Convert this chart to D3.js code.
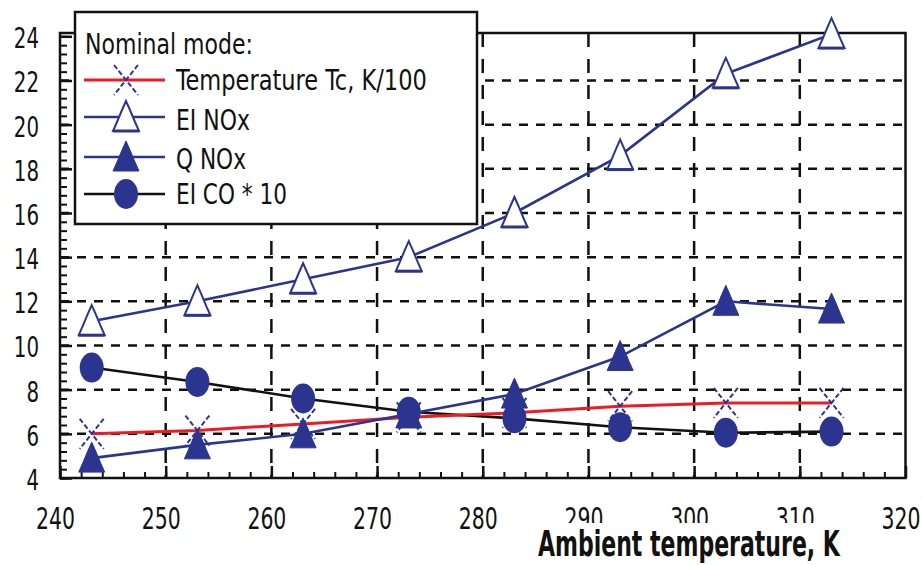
<!DOCTYPE html>
<html>
<head>
<meta charset="utf-8">
<script src="https://cdn.jsdelivr.net/npm/d3@7/dist/d3.min.js"></script>
<style>
  html, body { margin: 0; padding: 0; background: #fff; }
  svg { display: block; }
</style>
</head>
<body>
<svg id="chart" width="922" height="565"></svg>
<script>
// ---------- data ----------
const ambientT = [243, 253, 263, 273, 283, 293, 303, 313];
const tempTc   = [6.0, 6.15, 6.45, 6.75, 6.95, 7.25, 7.4, 7.4];
const eiNOx    = [11.1, 12.0, 13.0, 14.0, 16.0, 18.6, 22.3, 24.1];
const qNOx     = [4.9, 5.5, 6.0, 6.9, 7.8, 9.5, 12.0, 11.65];
const eiCO10   = [9.0, 8.35, 7.6, 7.0, 6.7, 6.3, 6.05, 6.1];

const xTicks = [240, 250, 260, 270, 280, 290, 300, 310, 320];
const yTicks = [4, 6, 8, 10, 12, 14, 16, 18, 20, 22, 24];
const legendTitle = "Nominal mode:";
const seriesNames = ["Temperature Tc, K/100", "EI NOx", "Q NOx", "EI CO * 10"];
const xTitle = "Ambient temperature, K";

// ---------- setup ----------
const BLUE = "#2b3590", RED = "#ed1c24", BLACK = "#111";
const FONT = "'Liberation Sans Narrow','Arial Narrow','DejaVu Sans Condensed','Liberation Sans',sans-serif";
const svg = d3.select("#chart");
const L = 60, R = 905.5, T = 33, B = 478;
const x = d3.scaleLinear().domain([240, 320]).range([L, R]);
const y = d3.scaleLinear().domain([4, 24.15]).range([B, T]);

// fit a text to a target width while keeping the glyph height of `size`
function fitText(node, targetW, size) {
  const el = d3.select(node);
  el.attr("font-size", size);
  const w = node.getComputedTextLength();
  if (!w) return;
  const s = targetW / w;
  el.attr("font-size", size * s);
  const x0 = +el.attr("x") || 0, y0 = +el.attr("y") || 0;
  el.attr("x", 0).attr("y", 0)
    .attr("transform", `translate(${x0},${y0}) scale(1,${1 / s})`);
}

// gridlines
const grid = svg.append("g");
grid.selectAll("line.h").data(yTicks.filter(v => v > 4 && v < 24)).join("line")
  .attr("x1", L).attr("x2", R).attr("y1", d => y(d)).attr("y2", d => y(d))
  .attr("stroke", BLACK).attr("stroke-width", 2.5).attr("stroke-dasharray", "9 8");
grid.selectAll("line.v").data(xTicks.filter(v => v > 240 && v < 320)).join("line")
  .attr("x1", d => x(d)).attr("x2", d => x(d)).attr("y1", T).attr("y2", B)
  .attr("stroke", BLACK).attr("stroke-width", 2.5).attr("stroke-dasharray", "14 12");

// minor ticks
const yMinor = d3.range(4, 24.01, 0.4);
const xMinor = d3.range(240, 320.01, 2);
svg.append("g").attr("transform", `translate(${L},0)`)
  .call(d3.axisLeft(y).tickValues(yMinor).tickSize(-7).tickFormat(""))
  .call(g => g.select(".domain").remove())
  .selectAll("line").attr("stroke", BLACK).attr("stroke-width", 2);
svg.append("g").attr("transform", `translate(0,${B})`)
  .call(d3.axisBottom(x).tickValues(xMinor).tickSize(-6).tickFormat(""))
  .call(g => g.select(".domain").remove())
  .selectAll("line").attr("stroke", BLACK).attr("stroke-width", 2);

// major axes
const yAxis = svg.append("g").attr("transform", `translate(${L},0)`)
  .call(d3.axisLeft(y).tickValues(yTicks).tickSize(-12).tickPadding(21).tickFormat(d3.format("d")));
yAxis.select(".domain").remove();
yAxis.selectAll("line").attr("stroke", BLACK).attr("stroke-width", 2.5);
yAxis.selectAll("text")
  .attr("font-family", FONT).attr("fill", BLACK).attr("dy", "0.41em")
  .each(function(d) { fitText(this, String(d).length * 12.6, 28); });

const xAxis = svg.append("g").attr("transform", `translate(0,${B})`)
  .call(d3.axisBottom(x).tickValues(xTicks).tickSize(-12).tickPadding(30).tickFormat(d3.format("d")));
xAxis.select(".domain").remove();
xAxis.selectAll("line").attr("stroke", BLACK).attr("stroke-width", 2.5);
xAxis.selectAll("text")
  .attr("font-family", FONT).attr("fill", BLACK).attr("x", -5)
  .each(function() { fitText(this, 39, 30); });

// frame
svg.append("rect").attr("x", L).attr("y", T).attr("width", R - L).attr("height", B - T)
  .attr("fill", "none").attr("stroke", BLACK).attr("stroke-width", 2.5);

// axis title with white box hiding lower part of tick labels
svg.append("rect").attr("x", 528).attr("y", 523).attr("width", 322).attr("height", 42).attr("fill", "#fff");
svg.append("text").attr("x", 538).attr("y", 556)
  .attr("font-family", FONT).attr("font-weight", "bold").attr("fill", BLACK)
  .text(xTitle)
  .each(function() { fitText(this, 302, 35); });

// ---------- markers ----------
const triPath = "M0,-16 L-4,-7 L-9,5 L-13,14 L13,14 L9,5 L4,-7 Z";
function drawMarker(g, type) {
  if (type === "x") {
    g.append("line").attr("x1", -12).attr("y1", -15).attr("x2", 12).attr("y2", 15);
    g.append("line").attr("x1", 12).attr("y1", -15).attr("x2", -12).attr("y2", 15);
    g.selectAll("line").attr("stroke", BLUE).attr("stroke-width", 2).attr("stroke-dasharray", "5 2.5");
  } else if (type === "openTri") {
    g.append("path").attr("d", triPath).attr("fill", "#fff").attr("stroke", BLUE).attr("stroke-width", 2);
    g.append("line").attr("x1", -13).attr("x2", 13).attr("y1", 14).attr("y2", 14)
      .attr("stroke", BLUE).attr("stroke-width", 3);
  } else if (type === "fillTri") {
    g.append("path").attr("d", triPath).attr("fill", BLUE).attr("stroke", BLUE).attr("stroke-width", 1);
  } else if (type === "circle") {
    g.append("ellipse").attr("rx", 12).attr("ry", 15).attr("fill", BLUE);
  }
}

const series = [
  { name: seriesNames[3], values: eiCO10, color: BLACK, width: 2.6, marker: "circle" },
  { name: seriesNames[0], values: tempTc, color: RED, width: 3, marker: "x" },
  { name: seriesNames[2], values: qNOx, color: BLUE, width: 2.6, marker: "fillTri" },
  { name: seriesNames[1], values: eiNOx, color: BLUE, width: 2.6, marker: "openTri" }
];

const line = d3.line().x(d => x(d[0])).y(d => y(d[1]));
series.forEach(s => {
  svg.append("path").datum(ambientT.map((t, i) => [t, s.values[i]]))
    .attr("d", line).attr("fill", "none").attr("stroke", s.color).attr("stroke-width", s.width);
});
series.forEach(s => {
  ambientT.forEach((t, i) => {
    const g = svg.append("g").attr("transform", `translate(${x(t)},${y(s.values[i])})`);
    drawMarker(g, s.marker);
  });
});

// ---------- legend ----------
const lg = svg.append("g");
lg.append("rect").attr("x", 75).attr("y", 12).attr("width", 402).attr("height", 212)
  .attr("fill", "#fff").attr("stroke", BLACK).attr("stroke-width", 2.5);
lg.append("text").attr("x", 85).attr("y", 54)
  .attr("font-family", FONT).attr("fill", BLACK).text(legendTitle)
  .each(function() { fitText(this, 168, 29); });
const legendItems = [
  { name: seriesNames[0], color: RED, width: 3, marker: "x", ly: 80, ty: 90, w: 251 },
  { name: seriesNames[1], color: BLUE, width: 2.6, marker: "openTri", ly: 117, ty: 130, w: 74 },
  { name: seriesNames[2], color: BLUE, width: 2.6, marker: "fillTri", ly: 157, ty: 169, w: 70 },
  { name: seriesNames[3], color: BLACK, width: 2.6, marker: "circle", ly: 194, ty: 204, w: 111 }
];
legendItems.forEach(it => {
  lg.append("line").attr("x1", 84).attr("x2", 165).attr("y1", it.ly).attr("y2", it.ly)
    .attr("stroke", it.color).attr("stroke-width", it.width);
  const g = lg.append("g").attr("transform", `translate(126,${it.ly})`);
  drawMarker(g, it.marker);
  lg.append("text").attr("x", 176).attr("y", it.ty)
    .attr("font-family", FONT).attr("fill", BLACK).text(it.name)
    .each(function() { fitText(this, it.w, 29); });
});
</script>
</body>
</html>
